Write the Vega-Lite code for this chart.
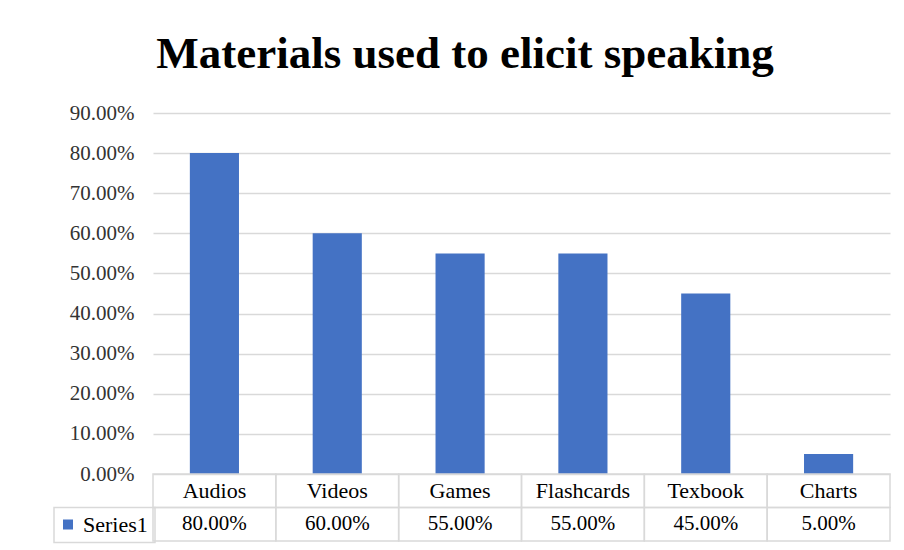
{
  "$schema": "https://vega.github.io/schema/vega-lite/v6.json",
  "background": "white",
  "padding": {"left": 53, "top": 32, "right": 15, "bottom": 8},
  "bounds": "flush",
  "title": {
    "text": "Materials used to elicit speaking",
    "font": "Liberation Serif",
    "fontSize": 45,
    "fontWeight": "bold",
    "color": "#000000",
    "anchor": "middle",
    "offset": 25,
    "dx": -7
  },
  "data": {
    "values": [
      {"category": "Audios", "value": 0.80, "series": "Series1"},
      {"category": "Videos", "value": 0.60, "series": "Series1"},
      {"category": "Games", "value": 0.55, "series": "Series1"},
      {"category": "Flashcards", "value": 0.55, "series": "Series1"},
      {"category": "Texbook", "value": 0.45, "series": "Series1"},
      {"category": "Charts", "value": 0.05, "series": "Series1"}
    ]
  },
  "spacing": 0,
  "resolve": {"legend": {"color": "independent"}},
  "vconcat": [
    {
      "width": 737,
      "height": 361,
      "mark": {"type": "bar", "color": "#4472c4"},
      "encoding": {
        "x": {
          "field": "category",
          "type": "nominal",
          "sort": null,
          "scale": {"paddingInner": 0.6, "paddingOuter": 0.3},
          "axis": null
        },
        "y": {
          "field": "value",
          "type": "quantitative",
          "scale": {"domain": [0, 0.9], "nice": false},
          "axis": {
            "values": [0, 0.1, 0.2, 0.3, 0.4, 0.5, 0.6, 0.7, 0.8, 0.9],
            "format": ".2%",
            "title": null,
            "domain": false,
            "ticks": false,
            "gridColor": "#d9d9d9",
            "gridWidth": 1.5,
            "labelFont": "Liberation Serif",
            "labelFontSize": 21,
            "labelColor": "#333333",
            "labelPadding": 19
          }
        }
      }
    },
    {
      "width": 737,
      "height": 67,
      "encoding": {
        "x": {
          "field": "category",
          "type": "nominal",
          "sort": null,
          "scale": {"paddingInner": 0, "paddingOuter": 0},
          "axis": null
        }
      },
      "layer": [
        {
          "mark": {"type": "rect", "fill": "transparent", "stroke": "#d9d9d9", "strokeWidth": 1.5},
          "encoding": {
            "y": {"datum": "header", "type": "nominal", "scale": {"domain": ["header", "Series1"], "paddingInner": 0, "paddingOuter": 0}, "axis": null}
          }
        },
        {
          "mark": {"type": "rect", "fill": "transparent", "stroke": "#d9d9d9", "strokeWidth": 1.5},
          "encoding": {
            "y": {"datum": "Series1", "type": "nominal"}
          }
        },
        {
          "mark": {"type": "text", "font": "Liberation Serif", "fontSize": 22, "color": "#000000", "baseline": "middle"},
          "encoding": {
            "y": {"datum": "header", "type": "nominal"},
            "text": {"field": "category"}
          }
        },
        {
          "mark": {"type": "text", "font": "Liberation Serif", "fontSize": 21, "color": "#000000", "baseline": "middle"},
          "encoding": {
            "y": {"datum": "Series1", "type": "nominal"},
            "text": {"field": "value", "format": ".2%"}
          }
        },
        {
          "mark": {"type": "square", "opacity": 0, "size": 1},
          "encoding": {
            "y": {"datum": "Series1", "type": "nominal"},
            "color": {
              "field": "series",
              "type": "nominal",
              "scale": {"range": ["#4472c4"]},
              "legend": {
                "orient": "none",
                "legendX": -99,
                "legendY": 33.5,
                "title": null,
                "symbolType": "square",
                "symbolSize": 100,
                "symbolStrokeWidth": 0,
                "symbolOpacity": 1,
                "symbolOffset": -4,
                "labelFont": "Liberation Serif",
                "labelFontSize": 22,
                "labelColor": "#000000",
                "labelOffset": 4,
                "strokeColor": "#d9d9d9",
                "padding": 7,
                "clipHeight": 20
              }
            }
          }
        }
      ]
    }
  ],
  "config": {
    "view": {"stroke": null},
    "legend": {"strokeWidth": 1.5}
  }
}
